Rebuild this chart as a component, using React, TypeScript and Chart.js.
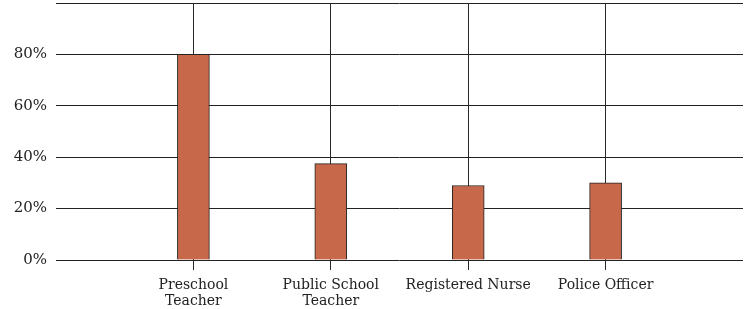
import React, { useEffect, useRef } from "react";
import { Chart, registerables } from "chart.js";

Chart.register(...registerables);

const categories: (string | string[])[] = [
  "",
  ["Preschool", "Teacher"],
  ["Public School", "Teacher"],
  "Registered Nurse",
  "Police Officer",
  "",
];
const values: (number | null)[] = [null, 80, 37.5, 29, 30, null];
const yTicks = [0, 20, 40, 60, 80];

const FONT = "'DejaVu Serif', serif";

const vColor = (c: any) =>
  c.index === 0 || c.index === categories.length - 1 ? "rgba(0,0,0,0)" : "#2a2a2a";

export default function App() {
  const ref = useRef<HTMLCanvasElement | null>(null);
  useEffect(() => {
    if (!ref.current) return;
    const chart = new Chart(ref.current, {
      type: "bar",
      data: {
        labels: categories,
        datasets: [
          {
            data: values,
            backgroundColor: "#C8684A",
            borderColor: "#222",
            borderWidth: 1,
            barThickness: 32,
          },
        ],
      },
      options: {
        animation: false,
        responsive: false,
        maintainAspectRatio: false,
        layout: { padding: { top: 3, right: 6, left: 0, bottom: 0 } },
        plugins: { legend: { display: false }, tooltip: { enabled: false } },
        scales: {
          x: {
            type: "category",
            offset: false,
            border: { display: false },
            grid: {
              offset: false,
              color: vColor,
              tickColor: vColor,
              lineWidth: 1,
              drawTicks: true,
              tickLength: 10,
            },
            ticks: {
              color: "#222",
              font: { family: FONT, size: 14, lineHeight: 1.15 },
              padding: 7,
              maxRotation: 0,
              autoSkip: false,
            },
            afterFit: (s: any) => {
              s.height = 49;
              s.paddingLeft = 0;
              s.paddingRight = 0;
            },
          },
          y: {
            min: 0,
            max: 100,
            border: { display: false },
            grid: { color: "#222", lineWidth: 1, drawTicks: false },
            ticks: {
              stepSize: 20,
              color: "#222",
              padding: 9,
              font: { family: FONT, size: 15 },
              callback: (v: any) => (yTicks.includes(Number(v)) ? `${v}%` : ""),
            },
            afterFit: (s: any) => {
              s.width = 56;
              s.paddingTop = 0;
              s.paddingBottom = 0;
            },
          },
        },
      },
    });
    return () => chart.destroy();
  }, []);
  return (
    <div style={{ position: "fixed", left: 0, top: 0, width: 749, height: 309, background: "#fff" }}>
      <canvas ref={ref} width={749} height={309} style={{ width: 749, height: 309 }} />
    </div>
  );
}
